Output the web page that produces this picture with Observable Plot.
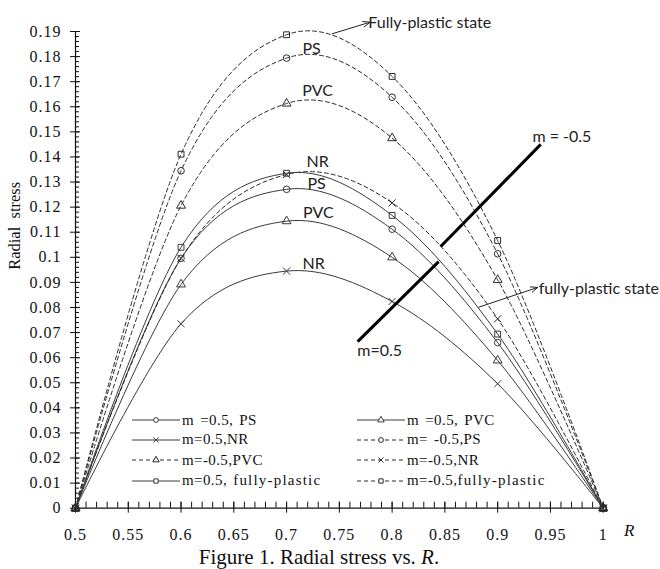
<!DOCTYPE html>
<html>
<head>
<meta charset="utf-8">
<script src="https://cdn.jsdelivr.net/npm/d3@7"></script>
<script src="https://cdn.jsdelivr.net/npm/@observablehq/plot@0.6"></script>
<style>
  html, body { margin: 0; padding: 0; background: #fff; }
  #wrap { position: relative; width: 660px; height: 569px; overflow: hidden; }
  .leg { position: absolute; height: 20px; display: flex; align-items: center;
         font-family: "Liberation Serif", serif; font-size: 15px; color: #111; white-space: pre;
         letter-spacing: 0.4px; word-spacing: 2px; }
  .leg svg { display: block; }
  .wide { letter-spacing: 1.2px; }
  #title { position: absolute; left: 0; top: 545px; width: 638px; text-align: center;
           font-family: "Liberation Serif", serif; font-size: 21px; line-height: 24px; color: #111; }
</style>
</head>
<body>
<div id="wrap"><div id="chart"></div><div id="title">Figure 1. Radial stress vs. <i>R</i>.</div></div>
<script>
// ---- data ----
const R = [0.5, 0.6, 0.7, 0.8, 0.9, 1.0];

const posPS  = [0, 0.0996, 0.1271, 0.1112, 0.0660, 0];
const posPVC = [0, 0.0892, 0.1144, 0.1000, 0.0589, 0];
const posNR  = [0, 0.0735, 0.0945, 0.0824, 0.0496, 0];
const posFP  = [0, 0.1040, 0.1335, 0.1167, 0.0694, 0];

const negPS  = [0, 0.1345, 0.1794, 0.1638, 0.1014, 0];
const negPVC = [0, 0.1206, 0.1613, 0.1475, 0.0910, 0];
const negNR  = [0, 0.0996, 0.1330, 0.1217, 0.0755, 0];
const negFP  = [0, 0.1411, 0.1887, 0.1721, 0.1067, 0];

const xTicks = [0.5, 0.55, 0.6, 0.65, 0.7, 0.75, 0.8, 0.85, 0.9, 0.95, 1];
const xTickLabels = ["0.5", "0.55", "0.6", "0.65", "0.7", "0.75", "0.8", "0.85", "0.9", "0.95", "1"];
const yTicks = [0, 0.01, 0.02, 0.03, 0.04, 0.05, 0.06, 0.07, 0.08, 0.09, 0.1,
                0.11, 0.12, 0.13, 0.14, 0.15, 0.16, 0.17, 0.18, 0.19];
const yTickLabels = ["0", "0.01", "0.02", "0.03", "0.04", "0.05", "0.06", "0.07", "0.08", "0.09", "0.1",
                     "0.11", "0.12", "0.13", "0.14", "0.15", "0.16", "0.17", "0.18", "0.19"];

const legendLabels = ["m =0.5, PS", "m =0.5, PVC", "m=0.5,NR", "m= -0.5,PS",
                      "m=-0.5,PVC", "m=-0.5,NR", "m=0.5, fully-plastic", "m=-0.5,fully-plastic"];

const curveLabels = ["PS", "PVC", "NR", "PS", "PVC", "NR"];
const curveLabelR = [0.7237, 0.7294, 0.7294, 0.7284, 0.7300, 0.7256];
const curveLabelY = [0.1832, 0.1665, 0.1380, 0.1294, 0.1178, 0.0975];

// ---- series definitions ----
const series = [
  {name: "m =0.5, PS", values: posPS, symbol: "circle", dash: null},
  {name: "m =0.5, PVC", values: posPVC, symbol: "triangle", dash: null},
  {name: "m=0.5,NR", values: posNR, symbol: "times", dash: null},
  {name: "m= -0.5,PS", values: negPS, symbol: "circle", dash: "4,3"},
  {name: "m=-0.5,PVC", values: negPVC, symbol: "triangle", dash: "4,3"},
  {name: "m=-0.5,NR", values: negNR, symbol: "times", dash: "4,3"},
  {name: "m=0.5, fully-plastic", values: posFP, symbol: "square", dash: null},
  {name: "m=-0.5,fully-plastic", values: negFP, symbol: "square", dash: "4,3"}
];
const table = s => R.map((r, i) => ({R: r, stress: s.values[i]}));

const round = v => Math.round(v * 1e6) / 1e6;
const xMinor = d3.range(50, 101).map(k => round(k / 100));
const yMinor = d3.range(0, 96).map(k => round(k * 0.002));

const solidColor = "#3a3a3a", dashColor = "#2a2a2a";
const serif = "Liberation Serif, serif";
const sans = "Lato, sans-serif";

const marks = [];
// axes lines & ticks
marks.push(Plot.ruleY([0], {stroke: "#111", strokeWidth: 1.2}));
marks.push(Plot.ruleX([0.5], {stroke: "#111", strokeWidth: 1.2}));
marks.push(Plot.ruleX(xMinor, {x: d => d, y1: 0, y2: 0, insetTop: -6, stroke: "#111"}));
marks.push(Plot.ruleX(xTicks, {x: d => d, y1: 0, y2: 0, insetTop: -6, insetBottom: -5, stroke: "#111"}));
marks.push(Plot.ruleY(yMinor, {y: d => d, x1: 0.5, x2: 0.5, insetRight: -4, stroke: "#111"}));
marks.push(Plot.ruleY(yTicks, {y: d => d, x1: 0.5, x2: 0.5, insetLeft: -5, insetRight: -5, stroke: "#111"}));
marks.push(Plot.axisX(xTicks, {tickSize: 0, tickPadding: 20, tickFormat: (d, i) => xTickLabels[i],
  fontSize: 16, fontFamily: serif, label: null, fill: "#111"}));
marks.push(Plot.axisY(yTicks, {tickSize: 0, tickPadding: 14, tickFormat: (d, i) => yTickLabels[i],
  fontSize: 16, fontFamily: serif, label: null, fill: "#111"}));

// curves
for (const s of series) {
  marks.push(Plot.line(table(s), {x: "R", y: "stress", curve: "cardinal",
    stroke: s.dash ? dashColor : solidColor, strokeWidth: 1, strokeDasharray: s.dash}));
}
for (const s of series) {
  marks.push(Plot.dot(table(s), {x: "R", y: "stress", symbol: () => s.symbol, r: 3.3,
    stroke: s.dash ? dashColor : solidColor, strokeWidth: 1, fill: "none"}));
}

// annotations
marks.push(Plot.text(curveLabels, {x: (d, i) => curveLabelR[i], y: (d, i) => curveLabelY[i], text: d => d,
  fontFamily: sans, fontSize: 16, fill: "#222", textAnchor: "middle"}));
marks.push(Plot.arrow([{a: 0.7433, b: 0.1891, c: 0.7790, d: 0.1937}, {a: 0.882, b: 0.0801, c: 0.9380, d: 0.0880}],
  {x1: "a", y1: "b", x2: "c", y2: "d", stroke: "#222", strokeWidth: 1, headLength: 11, headAngle: 45}));
marks.push(Plot.text([{t: "Fully-plastic state", x: 0.7774, y: 0.1936},
                      {t: "fully-plastic state", x: 0.9389, y: 0.0876},
                      {t: "m = -0.5", x: 0.9329, y: 0.1481},
                      {t: "m=0.5", x: 0.7670, y: 0.0627}],
  {x: "x", y: "y", text: "t", textAnchor: "start", fontFamily: sans, fontSize: 16, fill: "#222"}));
marks.push(Plot.link([{a: 0.9408, b: 0.1450, c: 0.8460, d: 0.1043}, {a: 0.8441, b: 0.0983, c: 0.7673, d: 0.0664}],
  {x1: "a", y1: "b", x2: "c", y2: "d", stroke: "#000", strokeWidth: 3}));

// axis titles
marks.push(Plot.text(["Radial  stress"], {frameAnchor: "left", text: d => d, rotate: -90, dx: -61, dy: -44,
  textAnchor: "middle", lineAnchor: "middle", fontFamily: serif, fontSize: 16.5, fill: "#111"}));
marks.push(Plot.text(["R"], {frameAnchor: "bottom-right", text: d => d, dx: 26, dy: 22,
  textAnchor: "middle", lineAnchor: "middle", fontFamily: serif, fontSize: 17, fontStyle: "italic", fill: "#111"}));

const chart = Plot.plot({
  width: 660,
  height: 545,
  marginLeft: 75,
  marginRight: 57.3,
  marginTop: 31,
  marginBottom: 37.3,
  x: {domain: [0.5, 1]},
  y: {domain: [0, 0.19]},
  style: "font-family: 'Liberation Serif', serif; font-size: 16px; background: white; overflow: visible;",
  marks
});
// slightly wider tick labels, as in the reference
chart.querySelectorAll('g[aria-label="x-axis tick label"] text, g[aria-label="y-axis tick label"] text').forEach(t => {
  t.style.letterSpacing = "1px";
});
document.getElementById("chart").appendChild(chart);

// legend (HTML overlay inside the plot area)
const wrap = document.getElementById("wrap");
const colX = [[132, 182], [357, 407]];
const rowY = [420, 439.5, 460, 480.5];
const symbolType = {circle: d3.symbolCircle, triangle: d3.symbolTriangle, times: d3.symbolTimes, square: d3.symbolSquare};
series.forEach((s, i) => {
  const col = i % 2, row = Math.floor(i / 2);
  const div = document.createElement("div");
  div.className = "leg";
  div.style.left = colX[col][0] + "px";
  div.style.top = (rowY[row] - 10) + "px";
  const color = s.dash ? dashColor : solidColor;
  const sw = colX[col][1] - colX[col][0] - 2;
  const path = d3.symbol(symbolType[s.symbol], Math.PI * 2.4 * 2.4)();
  const label = legendLabels[i].replace("fully-plastic", '<span class="wide">fully-plastic</span>');
  div.innerHTML = `<svg width="${sw}" height="20"><line x1="0" x2="${sw}" y1="10" y2="10" stroke="${color}" stroke-width="1" ${s.dash ? 'stroke-dasharray="4,3"' : ''}/>` +
    `<path d="${path}" transform="translate(${sw / 2},10)" fill="white" stroke="${color}" stroke-width="1"/></svg>` +
    `<span style="margin-left:2px">${label}</span>`;
  wrap.appendChild(div);
});
</script>
</body>
</html>
